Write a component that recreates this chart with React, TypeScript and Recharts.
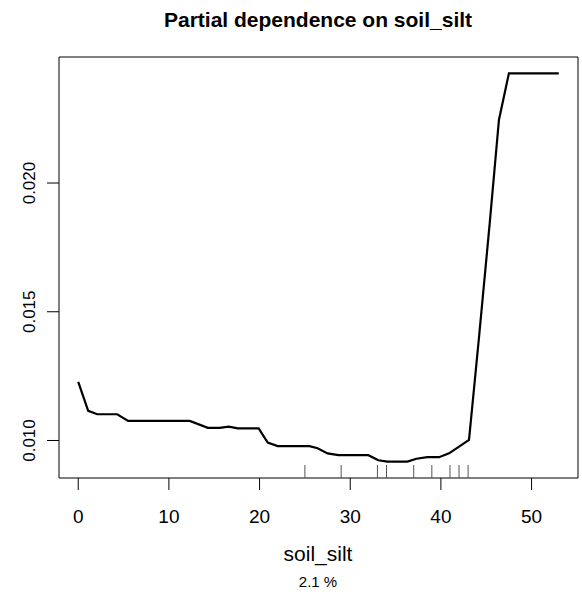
import { ComposedChart, Line, Scatter, XAxis, YAxis, ReferenceArea } from "recharts";

// partial dependence curve
const siltX = [0, 1.1, 2.1, 4.3, 5.5, 12.3, 14.3, 15.6, 16.6, 17.6, 19.9, 20.9, 22.0, 25.5, 26.4, 27.5, 28.7, 32.0, 33.1, 34.1, 36.3, 37.3, 38.5, 39.8, 40.9, 42.0, 43.1, 44.2, 45.4, 46.4, 47.5, 53.0];
const dependence = [0.01228, 0.01115, 0.01102, 0.01102, 0.01076, 0.01076, 0.01049, 0.01049, 0.01054, 0.01047, 0.01047, 0.00992, 0.00978, 0.00978, 0.0097, 0.0095, 0.00943, 0.00943, 0.00923, 0.00918, 0.00918, 0.00929, 0.00935, 0.00935, 0.0095, 0.00976, 0.01002, 0.014, 0.0185, 0.02245, 0.02426, 0.02426];

// rug of observed values
const rugX = [25, 29, 33, 34, 37, 39, 41, 42, 43];

const xTicks = [0, 10, 20, 30, 40, 50];
const yTicks = [0.01, 0.015, 0.02];

const xDomain: [number, number] = [-2.12, 55.12];
const yDomain: [number, number] = [0.008543, 0.024895];

const curve = siltX.map((x, i) => ({ x, y: dependence[i] }));
const rug = rugX.map((x) => ({ x, y: yDomain[0] }));

const font = '"Liberation Sans", Arial, Helvetica, sans-serif';

const XTick = (props: any) => (
  <text x={props.x} y={523} textAnchor="middle" fontSize={19} fontFamily={font} fill="#000">
    {props.payload.value}
  </text>
);

const YTick = (props: any) => (
  <text
    x={35}
    y={props.y}
    textAnchor="middle"
    fontSize={17}
    fontFamily={font}
    fill="#000"
    transform={`rotate(-90, 35, ${props.y})`}
  >
    {props.payload.value.toFixed(3)}
  </text>
);

const RugMark = (props: any) => (
  <line x1={props.cx} x2={props.cx} y1={props.cy} y2={props.cy - 13} stroke="#555" strokeWidth={1} />
);

export default function App() {
  return (
    <div style={{ position: "absolute", left: 0, top: 0, width: 582, height: 595, background: "#fff" }}>
      <ComposedChart width={582} height={595} margin={{ top: 57, right: 4, bottom: 0, left: 0 }}>
        <XAxis
          type="number"
          dataKey="x"
          domain={xDomain}
          ticks={xTicks}
          allowDataOverflow
          axisLine={false}
          tickLine={{ stroke: "#000" }}
          tickSize={12}
          height={117}
          tick={<XTick />}
        />
        <YAxis
          type="number"
          dataKey="y"
          domain={yDomain}
          ticks={yTicks}
          allowDataOverflow
          axisLine={false}
          tickLine={{ stroke: "#000" }}
          tickSize={12}
          width={59}
          tick={<YTick />}
        />
        <ReferenceArea
          x1={xDomain[0]}
          x2={xDomain[1]}
          y1={yDomain[0]}
          y2={yDomain[1]}
          fill="none"
          stroke="#000"
          strokeWidth={1}
          fillOpacity={0}
        />
        <Scatter data={rug} dataKey="y" shape={<RugMark />} isAnimationActive={false} />
        <Line
          data={curve}
          dataKey="y"
          type="linear"
          stroke="#000"
          strokeWidth={2.2}
          dot={false}
          activeDot={false}
          isAnimationActive={false}
        />
      </ComposedChart>
      <svg width={582} height={595} style={{ position: "absolute", left: 0, top: 0, pointerEvents: "none" }}>
        <text x={318} y={27} textAnchor="middle" fontSize={21} fontWeight="bold" fontFamily={font} fill="#000">
          Partial dependence on soil_silt
        </text>
        <text x={318} y={561} textAnchor="middle" fontSize={21} fontFamily={font} fill="#000">
          soil_silt
        </text>
        <text x={318} y={587} textAnchor="middle" fontSize={15} fontFamily={font} fill="#000">
          2.1 %
        </text>
      </svg>
    </div>
  );
}
